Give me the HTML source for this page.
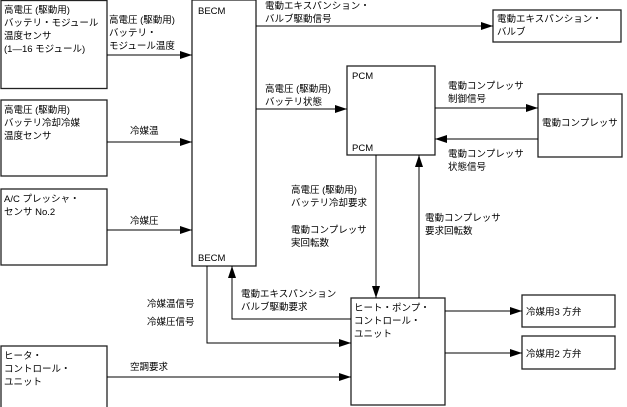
<!DOCTYPE html>
<html><head><meta charset="utf-8"><style>
body{margin:0;background:#fff}
svg{display:block}
text{font-family:"Liberation Sans","Noto Sans CJK JP",sans-serif;font-size:9.5px;fill:#000}
</style></head><body>
<svg width="627" height="407" viewBox="0 0 627 407">
<defs><marker id="a" markerWidth="12" markerHeight="8" refX="12" refY="4" orient="auto" markerUnits="userSpaceOnUse"><path d="M0,0 L12,4 L0,8 z" fill="#000"/></marker></defs>
<g fill="none" stroke="#222" stroke-width="1.3">
<rect x="1" y="0.5" width="106" height="88"/>
<rect x="1" y="100" width="106" height="76"/>
<rect x="1" y="189" width="106" height="76"/>
<rect x="1" y="346" width="106" height="62"/>
<rect x="192" y="0" width="64" height="266"/>
<rect x="347" y="66" width="88" height="89"/>
<rect x="538" y="94" width="84" height="63"/>
<rect x="493" y="10" width="128" height="32"/>
<rect x="351" y="298" width="94" height="107"/>
<rect x="522" y="295" width="93" height="32"/>
<rect x="522" y="336" width="93" height="33"/>
</g>
<g fill="none" stroke="#000" stroke-width="1" marker-end="url(#a)">
<path d="M107 55 H192"/>
<path d="M107 142 H192"/>
<path d="M107 230 H192"/>
<path d="M256 26 H493"/>
<path d="M256 109 H347"/>
<path d="M435 108 H538"/>
<path d="M538 139 H435"/>
<path d="M376 155 V298"/>
<path d="M419 298 V155"/>
<path d="M351 319 H232 V266"/>
<path d="M207 266 V343 H351"/>
<path d="M107 377 H351"/>
<path d="M445 311 H522"/>
<path d="M445 353 H522"/>
</g>
<text x="4" y="13">高電圧 (駆動用)</text>
<text x="4" y="26">バッテリ・モジュール</text>
<text x="4" y="39">温度センサ</text>
<text x="4" y="52">(1—16 モジュール)</text>
<text x="109" y="23">高電圧 (駆動用)</text>
<text x="109" y="36">バッテリ・</text>
<text x="109" y="49">モジュール温度</text>
<text x="4" y="113">高電圧 (駆動用)</text>
<text x="4" y="126">バッテリ冷却冷媒</text>
<text x="4" y="139">温度センサ</text>
<text x="130" y="134">冷媒温</text>
<text x="4" y="202">A/C プレッシャ・</text>
<text x="4" y="215">センサ No.2</text>
<text x="130" y="224">冷媒圧</text>
<text x="4" y="359">ヒータ・</text>
<text x="4" y="372">コントロール・</text>
<text x="4" y="385">ユニット</text>
<text x="130" y="370">空調要求</text>
<text x="198" y="14">BECM</text>
<text x="198" y="261">BECM</text>
<text x="147" y="307">冷媒温信号</text>
<text x="147" y="325">冷媒圧信号</text>
<text x="241" y="297">電動エキスパンション</text>
<text x="241" y="310">バルブ駆動要求</text>
<text x="265" y="9">電動エキスパンション・</text>
<text x="265" y="22">バルブ駆動信号</text>
<text x="497" y="22">電動エキスパンション・</text>
<text x="497" y="35">バルブ</text>
<text x="265" y="92">高電圧 (駆動用)</text>
<text x="265" y="105">バッテリ状態</text>
<text x="352" y="79">PCM</text>
<text x="352" y="151">PCM</text>
<text x="448" y="89">電動コンプレッサ</text>
<text x="448" y="102">制御信号</text>
<text x="448" y="157">電動コンプレッサ</text>
<text x="448" y="170">状態信号</text>
<text x="542" y="126">電動コンプレッサ</text>
<text x="291" y="193">高電圧 (駆動用)</text>
<text x="291" y="206">バッテリ冷却要求</text>
<text x="291" y="233">電動コンプレッサ</text>
<text x="291" y="246">実回転数</text>
<text x="425" y="221">電動コンプレッサ</text>
<text x="425" y="234">要求回転数</text>
<text x="354" y="311">ヒート・ポンプ・</text>
<text x="354" y="324">コントロール・</text>
<text x="354" y="337">ユニット</text>
<text x="526" y="315">冷媒用3 方弁</text>
<text x="526" y="357">冷媒用2 方弁</text>
</svg>
</body></html>
